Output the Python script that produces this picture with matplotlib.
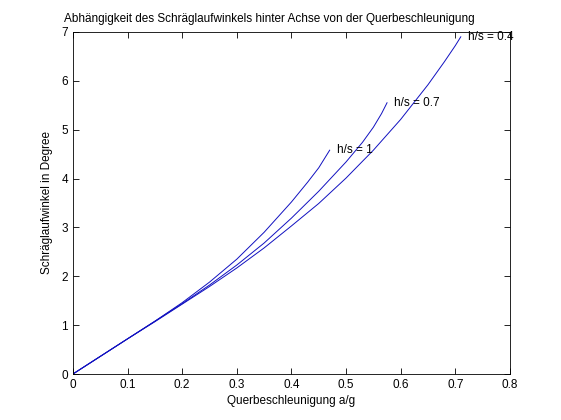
import matplotlib
matplotlib.use("Agg")
import matplotlib.pyplot as plt

plt.rcParams['font.family'] = ['Liberation Sans', 'DejaVu Sans']

# Querbeschleunigung a/g und Schräglaufwinkel (Grad) je h/s
x_1 = [0, 0.05, 0.1, 0.15, 0.2, 0.25, 0.3, 0.35, 0.4, 0.43, 0.45, 0.47]
y_1 = [0, 0.36, 0.72, 1.08, 1.46, 1.88, 2.35, 2.90, 3.52, 3.93, 4.22, 4.58]

x_07 = [0, 0.05, 0.1, 0.15, 0.2, 0.25, 0.3, 0.35, 0.4, 0.45, 0.5, 0.53, 0.55, 0.565, 0.575]
y_07 = [0, 0.36, 0.72, 1.08, 1.44, 1.82, 2.23, 2.68, 3.19, 3.74, 4.34, 4.74, 5.05, 5.33, 5.55]

x_04 = [0, 0.05, 0.1, 0.15, 0.2, 0.25, 0.3, 0.35, 0.4, 0.45, 0.5, 0.55, 0.6, 0.65, 0.68, 0.7, 0.71]
y_04 = [0, 0.36, 0.72, 1.07, 1.43, 1.79, 2.17, 2.58, 3.03, 3.49, 4.01, 4.58, 5.21, 5.92, 6.39, 6.72, 6.9]

labels = ['h/s = 1', 'h/s = 0.7', 'h/s = 0.4']

fig = plt.figure(figsize=(5.61, 4.2), dpi=100)
ax = fig.add_axes([0.13, 0.1095, 0.779, 0.8145])

for xs, ys, lab in [(x_1, y_1, labels[0]), (x_07, y_07, labels[1]), (x_04, y_04, labels[2])]:
    ax.plot(xs, ys, color='#1010c0', lw=0.7)
    ax.text(xs[-1] + 0.013, ys[-1], lab, fontsize=8.5, va='center', ha='left')

ax.set_xlim(0, 0.8)
ax.set_ylim(0, 7)
ax.set_xticks([0, 0.1, 0.2, 0.3, 0.4, 0.5, 0.6, 0.7, 0.8])
ax.set_xticklabels(['0', '0.1', '0.2', '0.3', '0.4', '0.5', '0.6', '0.7', '0.8'])
ax.set_yticks(range(8))
ax.tick_params(direction='in', top=True, right=True, labelsize=8.5, length=4, width=0.6)
for s in ax.spines.values():
    s.set_linewidth(0.6)

ax.set_title('Abhängigkeit des Schräglaufwinkels hinter Achse von der Querbeschleunigung',
             fontsize=8.5, pad=7, x=0.45)
ax.set_xlabel('Querbeschleunigung a/g', fontsize=8.5, labelpad=3)
ax.set_ylabel('Schräglaufwinkel in Degree', fontsize=8.5, labelpad=6)

fig.savefig('out.png', dpi=100)
